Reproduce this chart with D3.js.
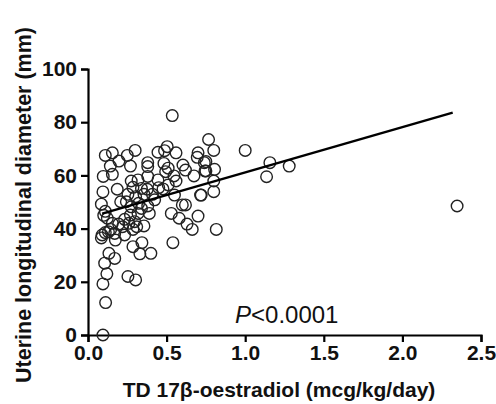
<!DOCTYPE html>
<html>
<head>
<meta charset="utf-8">
<script src="https://cdn.jsdelivr.net/npm/d3@7"></script>
<style>
  body { margin: 0; background: #fff; }
  svg { display: block; font-family: "Liberation Sans", Arial, sans-serif; }
</style>
</head>
<body>
<svg id="chart" width="496" height="404"></svg>
<script>
// dose (x) and diameter (y)
const dose = [
  0.536, 0.767, 0.80, 1.0, 0.11, 0.155, 0.25, 0.30, 0.197, 0.27,
  0.142, 0.097, 0.155, 0.095, 0.085, 0.10, 0.09, 0.13, 0.17, 0.133,
  0.17, 0.106, 0.12, 0.095, 0.112, 0.095, 0.254, 0.303, 0.286, 0.343,
  0.33, 0.40, 0.54, 0.816, 0.663, 0.63, 0.58, 0.53, 0.70, 0.60,
  0.62, 0.716, 0.80, 0.80, 0.805, 0.74, 0.70, 0.695, 0.75, 0.674,
  0.62, 0.604, 0.56, 0.504, 0.487, 0.445, 0.38, 0.38, 0.483, 0.51,
  0.494, 0.547, 0.56, 0.55, 0.51, 0.45, 0.477, 0.445, 0.38, 0.318,
  0.275, 0.186, 0.286, 0.34, 0.377, 0.41, 0.356, 0.303, 0.254, 0.208,
  0.244, 0.275, 0.322, 0.34, 0.38, 0.424, 0.39, 0.318, 0.27, 0.233,
  0.26, 0.297, 0.356, 0.31, 0.286, 0.22, 0.195, 0.155, 0.123, 0.233,
  0.174, 0.144, 1.157, 1.28, 1.136, 0.72, 0.75, 0.744, 2.348, 0.11,
  0.11, 0.085
];
const diameter = [
  82.5, 73.5, 69.4, 69.4, 67.5, 68.5, 67.5, 69.4, 65.4, 63.5,
  63.5, 59.6, 60.4, 53.8, 49.2, 45.0, 37.6, 38.8, 38.2, 30.7,
  28.8, 27.0, 23.0, 19.2, 12.2, 0.0, 22.0, 20.7, 33.2, 34.7,
  30.5, 30.7, 34.7, 39.7, 39.7, 41.7, 43.9, 45.7, 44.7, 48.9,
  48.9, 52.6, 53.9, 57.9, 62.3, 64.8, 68.5, 66.8, 61.7, 59.8,
  62.0, 63.9, 68.5, 70.8, 69.3, 68.7, 64.8, 63.3, 64.5, 62.7,
  61.4, 59.8, 57.9, 52.6, 56.4, 55.4, 54.9, 58.3, 59.6, 58.3,
  57.9, 54.8, 55.5, 55.1, 54.8, 52.9, 52.9, 52.0, 52.9, 50.1,
  50.1, 48.2, 49.5, 47.6, 48.5, 50.8, 45.7, 45.7, 45.1, 43.5,
  42.0, 42.6, 41.0, 40.7, 39.7, 40.7, 41.7, 42.0, 43.9, 37.6,
  35.7, 39.7, 64.8, 63.5, 59.5, 52.6, 65.2, 61.7, 48.5, 46.5,
  38.5, 36.5
];

// regression line end points
const fitX = [0.09, 2.32];
const fitY = [45.6, 83.6];

const xTicks = [0, 0.5, 1.0, 1.5, 2.0, 2.5];
const yTicks = [0, 20, 40, 60, 80, 100];

const svg = d3.select("#chart");

const xScale = d3.scaleLinear().domain([0, 2.5]).range([88, 481]);
const yScale = d3.scaleLinear().domain([0, 100]).range([335, 69]);

// axes
const xAxis = svg
  .append("g")
  .attr("transform", "translate(0,335)")
  .call(
    d3.axisBottom(xScale)
      .tickValues(xTicks)
      .tickFormat(d3.format(".1f"))
      .tickSizeOuter(0)
      .tickSize(7)
      .tickPadding(3)
  );

const yAxis = svg
  .append("g")
  .attr("transform", "translate(88,0)")
  .call(
    d3.axisLeft(yScale)
      .tickValues(yTicks)
      .tickSizeOuter(0)
      .tickSize(7)
      .tickPadding(4)
  );

[xAxis, yAxis].forEach((ax) => {
  ax.select(".domain").attr("stroke", "#000").attr("stroke-width", 2.2);
  ax.selectAll(".tick line").attr("stroke", "#000").attr("stroke-width", 2.2);
  ax.selectAll(".tick text")
    .attr("fill", "#111")
    .style("font-size", "21px")
    .style("font-weight", "bold")
    .style("font-family", '"Liberation Sans", Arial, sans-serif');
});

// points
const points = dose.map((d, i) => ({ x: d, y: diameter[i] }));

svg
  .append("g")
  .selectAll("circle")
  .data(points)
  .enter()
  .append("circle")
  .attr("cx", (d) => xScale(d.x))
  .attr("cy", (d) => yScale(d.y))
  .attr("r", 5.8)
  .attr("fill", "none")
  .attr("stroke", "#222")
  .attr("stroke-width", 1.4);

// regression line
svg
  .append("path")
  .datum(fitX.map((d, i) => [d, fitY[i]]))
  .attr("fill", "none")
  .attr("stroke", "#000")
  .attr("stroke-width", 2.4)
  .attr("d", d3.line().x((d) => xScale(d[0])).y((d) => yScale(d[1])));

// titles
svg
  .append("text")
  .attr("x", 279)
  .attr("y", 397)
  .attr("text-anchor", "middle")
  .style("font-size", "21px")
  .style("font-weight", "bold")
  .attr("fill", "#111")
  .text("TD 17β-oestradiol (mcg/kg/day)");

svg
  .append("text")
  .attr("transform", "translate(31,205) rotate(-90)")
  .attr("text-anchor", "middle")
  .style("font-size", "21.5px")
  .style("font-weight", "bold")
  .attr("fill", "#111")
  .text("Uterine longitudinal diameter (mm)");

const pText = svg
  .append("text")
  .attr("x", 235)
  .attr("y", 323)
  .style("font-size", "24px")
  .attr("fill", "#111");
pText.append("tspan").style("font-style", "italic").text("P");
pText.append("tspan").text("<0.0001");
</script>
</body>
</html>
